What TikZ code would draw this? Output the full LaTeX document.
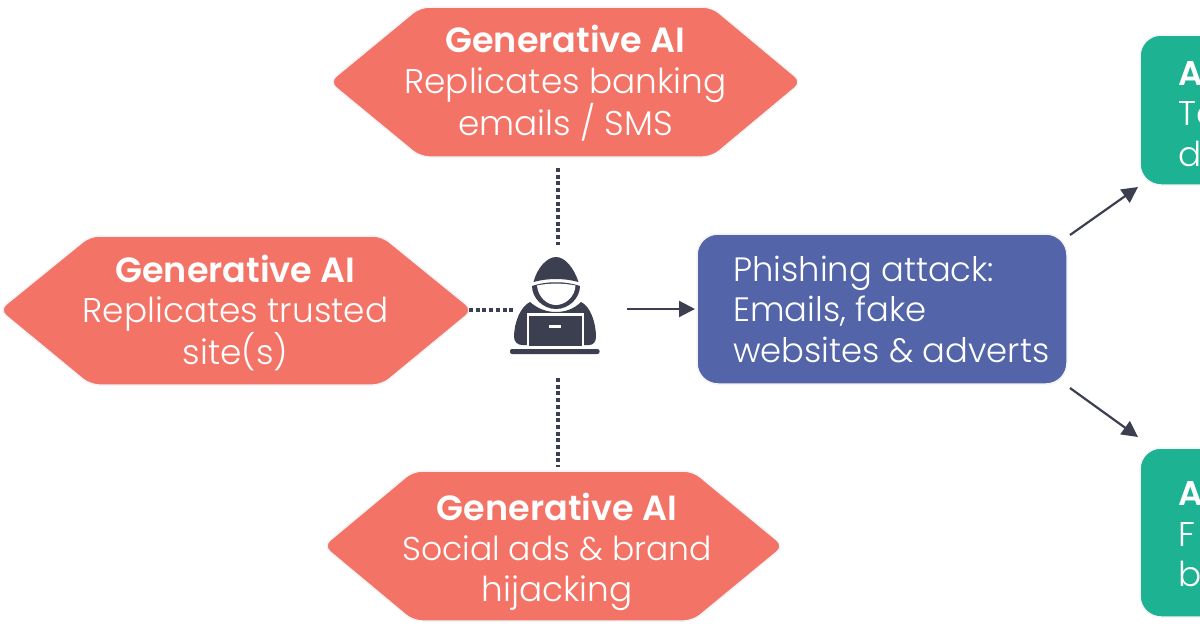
\documentclass[tikz,border=0pt]{standalone}
\usepackage{fontspec}
\setmainfont{Poppins}[UprightFont=* Light,BoldFont=* SemiBold]
\usetikzlibrary{arrows.meta}
\definecolor{coral}{HTML}{F37466}
\definecolor{bluebox}{HTML}{5365A8}
\definecolor{greenbox}{HTML}{1DB392}
\definecolor{inkdark}{HTML}{3C3F4F}
\definecolor{halo}{HTML}{F4F4F7}
\newcommand{\hd}{\fontsize{35}{40.5}\selectfont\bfseries Generative AI}
\tikzset{
 x=1pt,y=-1pt,
 hexshape/.style={fill=coral,draw=halo,line width=1.5pt,rounded corners=9pt},
 boxshape/.style={draw=halo,line width=1.5pt,rounded corners=21pt},
 label/.style={text=white,font=\fontsize{34.3}{40.5}\selectfont,inner sep=0pt,align=center},
 lablft/.style={label,align=left,anchor=west},
 dotline/.style={draw=inkdark,line width=4pt,dash pattern=on 4pt off 2.7pt},
 arrowline/.style={draw=inkdark,line width=2.2pt,-{Triangle[length=16pt,width=16pt]}},
 hack/.style={fill=inkdark,draw=none},
 hackw/.style={fill=white,draw=none},
}
\begin{document}
\begin{tikzpicture}
\useasboundingbox (0,0) rectangle (1200,630);
\fill[white] (0,0) rectangle (1200,630);
% hexagons
\path[hexshape] (420,7)--(712,7)--(802,82)--(712,157)--(420,157)--(329,82)--cycle;
\path[hexshape] (90,236)--(382,236)--(473,310)--(382,385)--(90,385)--(-1,310)--cycle;
\path[hexshape] (413,471)--(693,471)--(784,546)--(693,621)--(413,621)--(323,546)--cycle;
\node[label] (top) at (565.5,83.5) {{\hd}\\Replicates banking\\emails / SMS};
\node[label] (lft) at (235.5,313) {{\hd}\\Replicates trusted\\site(s)};
\node[label] (bot) at (557,551.5) {{\hd}\\{\fontsize{33}{40.5}\selectfont Social ads \& brand}\\hijacking};
% boxes
\path[boxshape,fill=bluebox] (697,234) rectangle (1067,384);
\path[boxshape,fill=greenbox] (1140,35) rectangle (1240,185);
\path[boxshape,fill=greenbox] (1140,448) rectangle (1240,617);
\node[lablft,font=\fontsize{33.8}{40.5}\selectfont] (phish) at (733,309) {Phishing attack:\\Emails, fake\\websites \& adverts};
\node[lablft] (ga) at (1178,114) {\textbf{A}\\Ta\\d};
\node[lablft] (gb) at (1178,534.5) {\textbf{A}\\F\\b};
% hacker
\node[minimum width=90pt,minimum height=96pt,inner sep=0pt] (hacker) at (555,305) {};
\path[hack] (533.5,282) .. controls (537,268) and (547,257) .. (556,257) .. controls (565,257) and (574,268) .. (578.5,282) .. controls (564,278) and (548,278) .. (533.5,282) -- cycle;
\path[hack] (532,286) .. controls (547,281) and (565,281) .. (580,286) .. controls (580,298) and (569,309) .. (556,309) .. controls (543,309) and (532,298) .. (532,286) -- cycle;
\path[hackw] (537,285.5) .. controls (548,283) and (564,283) .. (575.5,285.5) .. controls (575,297) and (565,305) .. (556,305) .. controls (547,305) and (538,297) .. (537,285.5) -- cycle;
\path[hack] (530,302) .. controls (538,309) and (547,312) .. (556,312) .. controls (565,312) and (574,309) .. (581,302) .. controls (590,306) and (596,322) .. (596,337) .. controls (596,342) and (593,345) .. (589,345) -- (522,345) .. controls (518,345) and (514,342) .. (514,337) .. controls (514,322) and (521,306) .. (530,302) -- cycle;
\path[hackw] (527,313) rectangle (584,348.5);
\path[hack] (529,315.5) rectangle (582,346);
\path[hackw] (549,325) rectangle (561,327.5);
\path[hack,rounded corners=2pt] (510,349) rectangle (599.5,354);
% anchors of connectors
\coordinate (t1) at (558,168);
\coordinate (t2) at (558,245);
\coordinate (l1) at (469,310);
\coordinate (l2) at (515,310);
\coordinate (b1) at (558,378);
\coordinate (b2) at (558,467);
\coordinate (ar1) at (627,309);
\coordinate (ar2) at (695,309);
\coordinate (up1) at (1070,235);
\coordinate (up2) at (1138,187);
\coordinate (dn1) at (1070,388);
\coordinate (dn2) at (1138,437);
\draw[dotline] (t1)--(t2);
\draw[dotline] (l1)--(l2);
\draw[dotline] (b1)--(b2);
\draw[arrowline] (ar1)--(ar2);
\draw[arrowline] (up1)--(up2);
\draw[arrowline] (dn1)--(dn2);
\end{tikzpicture}
\end{document}
